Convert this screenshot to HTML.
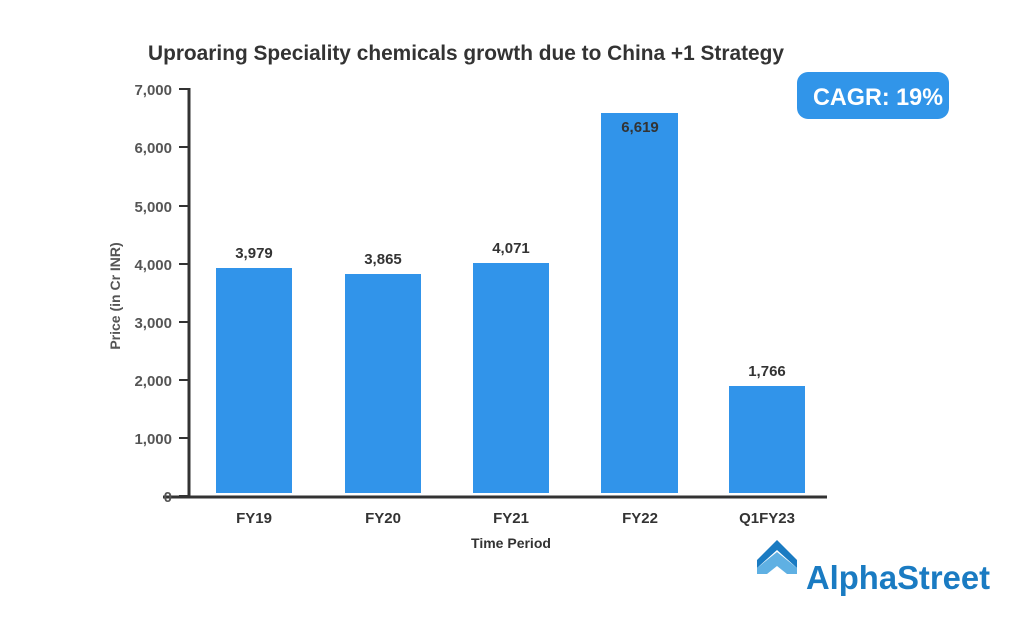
<!DOCTYPE html>
<html><head><meta charset="utf-8"><style>
html,body{margin:0;padding:0;background:#fff;width:1024px;height:627px;overflow:hidden}
svg{display:block}
text{font-family:"Liberation Sans",sans-serif}
</style></head><body>
<svg width="1024" height="627" viewBox="0 0 1024 627" xmlns="http://www.w3.org/2000/svg">
<rect width="1024" height="627" fill="#fff"/>
<text x="148" y="60" font-size="21" font-weight="bold" fill="#333" textLength="636" lengthAdjust="spacingAndGlyphs">Uproaring Speciality chemicals growth due to China +1 Strategy</text>
<rect x="797" y="72" width="152" height="47" rx="11" fill="#3195e9"/>
<text x="813" y="105" font-size="24" font-weight="bold" fill="#fff" textLength="130" lengthAdjust="spacingAndGlyphs">CAGR: 19%</text>
<g fill="#3194ea">
<rect x="216" y="268" width="76" height="225"/>
<rect x="345" y="274" width="76" height="219"/>
<rect x="473" y="263" width="76" height="230"/>
<rect x="601" y="113" width="77" height="380"/>
<rect x="729" y="386" width="76" height="107"/>
</g>
<g stroke="#333" stroke-width="2">
<line x1="179" y1="89" x2="189" y2="89"/>
<line x1="179" y1="147" x2="189" y2="147"/>
<line x1="179" y1="206" x2="189" y2="206"/>
<line x1="179" y1="264" x2="189" y2="264"/>
<line x1="179" y1="322" x2="189" y2="322"/>
<line x1="179" y1="380" x2="189" y2="380"/>
<line x1="179" y1="438" x2="189" y2="438"/>
<line x1="179" y1="496" x2="189" y2="496"/>
</g>
<line x1="189" y1="88" x2="189" y2="497" stroke="#333" stroke-width="3"/>
<line x1="163" y1="497" x2="827" y2="497" stroke="#333" stroke-width="3"/>
<g font-size="15" font-weight="bold" fill="#555" text-anchor="end">
<text x="172" y="95">7,000</text>
<text x="172" y="153">6,000</text>
<text x="172" y="212">5,000</text>
<text x="172" y="270">4,000</text>
<text x="172" y="328">3,000</text>
<text x="172" y="386">2,000</text>
<text x="172" y="444">1,000</text>
<text x="172" y="502">0</text>
</g>
<text transform="translate(120,296) rotate(-90)" font-size="14" font-weight="bold" fill="#555" text-anchor="middle">Price (in Cr INR)</text>
<g font-size="15" font-weight="bold" fill="#333" text-anchor="middle">
<text x="254" y="258">3,979</text>
<text x="383" y="264">3,865</text>
<text x="511" y="253">4,071</text>
<text x="640" y="132">6,619</text>
<text x="767" y="376">1,766</text>
<text x="254" y="523">FY19</text>
<text x="383" y="523">FY20</text>
<text x="511" y="523">FY21</text>
<text x="640" y="523">FY22</text>
<text x="767" y="523">Q1FY23</text>
<text x="511" y="548" font-size="14">Time Period</text>
</g>
<g>
<path d="M757 560 L777 540 L797 560 L797 568 L777 550 L757 568 Z" fill="#1a7bc2"/>
<path d="M757 568 L777 552 L797 568 L797 574 L787 574 L777 566 L767 574 L757 574 Z" fill="#5fb0e3"/>
</g>
<text x="806" y="589" font-size="33" font-weight="bold" fill="#1a7bc2" textLength="184" lengthAdjust="spacingAndGlyphs">AlphaStreet</text>
</svg>
</body></html>
